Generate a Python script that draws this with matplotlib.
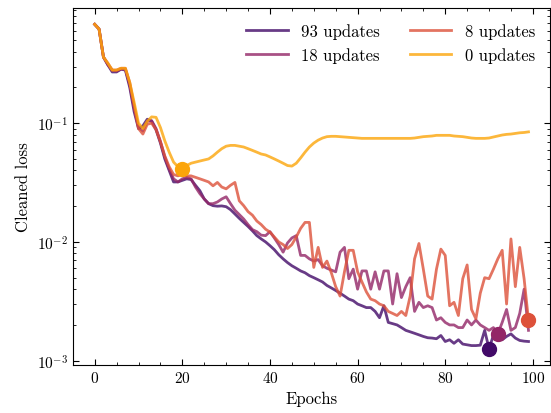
import matplotlib
matplotlib.use("Agg")
import matplotlib.pyplot as plt
import numpy as np

# ----------------------------------------------------------
# data
# ----------------------------------------------------------
epochs = np.arange(100)

loss_93 = [
    0.68, 0.62, 0.36, 0.31, 0.27, 0.27, 0.285, 0.28, 0.20, 0.125,
    0.09, 0.095, 0.108, 0.104, 0.088, 0.068, 0.050, 0.040, 0.032, 0.032,
    0.033, 0.034, 0.0335, 0.030, 0.027, 0.023, 0.021, 0.0202, 0.0200, 0.0201,
    0.0198, 0.0187, 0.0172, 0.0158, 0.0146, 0.0135, 0.0124, 0.0113, 0.0106, 0.0100,
    0.0093, 0.0086, 0.0078, 0.0072, 0.0067, 0.0063, 0.0060, 0.0057, 0.0055, 0.0052,
    0.0050, 0.0048, 0.0046, 0.0043, 0.0041, 0.0039, 0.0037, 0.0035, 0.0033, 0.0032,
    0.0030, 0.0029, 0.0028, 0.0028, 0.0026, 0.0023, 0.0029, 0.0021, 0.00205, 0.0020,
    0.0019, 0.0018, 0.00175, 0.0017, 0.00165, 0.0016, 0.00156, 0.00155, 0.00153, 0.00163,
    0.00145, 0.0015, 0.0014, 0.0015, 0.00138, 0.00136, 0.00134, 0.00134, 0.00135, 0.0018,
    0.00126, 0.00164, 0.0015, 0.0015, 0.0016, 0.00168, 0.00155, 0.00148, 0.00146, 0.00145,
]

loss_18 = [
    0.68, 0.62, 0.36, 0.31, 0.28, 0.275, 0.285, 0.285, 0.21, 0.135,
    0.092, 0.086, 0.104, 0.105, 0.09, 0.07, 0.052, 0.041, 0.034, 0.032,
    0.034, 0.035, 0.034, 0.029, 0.0255, 0.023, 0.021, 0.021, 0.0217, 0.023,
    0.024, 0.021, 0.0185, 0.017, 0.0156, 0.014, 0.0127, 0.0122, 0.0114, 0.0113,
    0.0122, 0.0108, 0.0095, 0.0082, 0.0098, 0.0108, 0.0113, 0.0077, 0.0077, 0.0072,
    0.0069, 0.0071, 0.0063, 0.0060, 0.0058, 0.0056, 0.0082, 0.0090, 0.0049, 0.0059,
    0.0040, 0.0057, 0.0057, 0.0040, 0.0056, 0.0040, 0.0057, 0.0057, 0.0030, 0.0054,
    0.0034, 0.0042, 0.0050, 0.0026, 0.0031, 0.0028, 0.0029, 0.0028, 0.0022, 0.0023,
    0.0021, 0.0020, 0.0020, 0.0019, 0.0019, 0.0022, 0.0020, 0.0022, 0.0020, 0.0019,
    0.0018, 0.0019, 0.00168, 0.0021, 0.0027, 0.0018, 0.0019, 0.0025, 0.0040, 0.0018,
]

loss_8 = [
    0.68, 0.62, 0.36, 0.32, 0.28, 0.28, 0.29, 0.29, 0.22, 0.14,
    0.09, 0.081, 0.098, 0.10, 0.088, 0.07, 0.053, 0.043, 0.037, 0.036,
    0.037, 0.036, 0.036, 0.035, 0.034, 0.033, 0.032, 0.0297, 0.0317, 0.029,
    0.028, 0.030, 0.0317, 0.0222, 0.0202, 0.018, 0.0168, 0.015, 0.014, 0.0128,
    0.0121, 0.011, 0.0100, 0.0095, 0.0088, 0.0095, 0.011, 0.013, 0.0146, 0.0146,
    0.0061, 0.0090, 0.0061, 0.0069, 0.0055, 0.0042, 0.0035, 0.0056, 0.0085, 0.0085,
    0.0056, 0.0046, 0.0038, 0.0033, 0.0032, 0.0030, 0.0029, 0.0026, 0.0025, 0.0024,
    0.0026, 0.0024, 0.0035, 0.0072, 0.0097, 0.0059, 0.0035, 0.0033, 0.0059, 0.0087,
    0.0077, 0.0029, 0.0031, 0.0024, 0.0049, 0.0064, 0.0027, 0.00225, 0.0037, 0.0050,
    0.0049, 0.0059, 0.0072, 0.0085, 0.0030, 0.0106, 0.0042, 0.0090, 0.0049, 0.0022,
]

loss_0 = [
    0.68, 0.62, 0.36, 0.32, 0.28, 0.28, 0.29, 0.29, 0.22, 0.15,
    0.10, 0.09, 0.104, 0.113, 0.112, 0.092, 0.071, 0.057, 0.047, 0.043,
    0.041, 0.044, 0.046, 0.047, 0.048, 0.049, 0.050, 0.053, 0.057, 0.061,
    0.064, 0.065, 0.065, 0.064, 0.063, 0.061, 0.059, 0.057, 0.055, 0.054,
    0.052, 0.050, 0.048, 0.046, 0.044, 0.0435, 0.046, 0.051, 0.057, 0.063,
    0.068, 0.072, 0.075, 0.077, 0.0775, 0.0775, 0.077, 0.0765, 0.076, 0.0755,
    0.075, 0.0745, 0.0745, 0.0745, 0.0745, 0.0745, 0.0745, 0.0745, 0.0745, 0.0745,
    0.0745, 0.0745, 0.0745, 0.075, 0.076, 0.077, 0.0775, 0.078, 0.079, 0.079,
    0.079, 0.079, 0.078, 0.0775, 0.077, 0.076, 0.075, 0.0745, 0.0745, 0.0745,
    0.075, 0.0765, 0.078, 0.0795, 0.0805, 0.081, 0.082, 0.083, 0.0835, 0.0845,
]

labels = ["93 updates", "18 updates", "8 updates", "0 updates"]
series = [loss_93, loss_18, loss_8, loss_0]

# ----------------------------------------------------------
# style (LaTeX-like look)
# ----------------------------------------------------------
plt.rcParams.update({
    "font.family": "serif",
    "font.serif": ["cmr10"],
    "mathtext.fontset": "cm",
    "axes.formatter.use_mathtext": True,
    "font.size": 12,
    "axes.linewidth": 0.8,
    "xtick.direction": "in",
    "ytick.direction": "in",
    "xtick.top": True,
    "ytick.right": True,
    "xtick.minor.visible": True,
    "ytick.minor.visible": True,
    "xtick.major.size": 4,
    "ytick.major.size": 4,
    "xtick.minor.size": 2,
    "ytick.minor.size": 2,
    "xtick.labelsize": 11,
    "ytick.labelsize": 11,
})

cmap = plt.get_cmap("inferno")
colors = [cmap(0.2), cmap(0.4), cmap(0.6), cmap(0.8)]

fig = plt.figure(figsize=(5.51, 4.14), dpi=100)
ax = fig.add_axes([0.1325, 0.116, 0.866, 0.862])

for y, lab, c in zip(series, labels, colors):
    y = np.asarray(y)
    ax.plot(epochs, y, color=c, alpha=0.8, lw=2, label=lab)
    i = int(np.argmin(y))
    ax.plot(epochs[i], y[i], "o", color=c, ms=10, zorder=5)

ax.set_yscale("log")
ax.set_xlabel("Epochs")
ax.set_ylabel("Cleaned loss")
ax.xaxis.set_minor_locator(matplotlib.ticker.MultipleLocator(5))

ax.legend(ncol=2, frameon=False, loc="upper right", handlelength=2.5,
          columnspacing=1.8, fontsize=12)

fig.savefig("out.png", dpi=100)
